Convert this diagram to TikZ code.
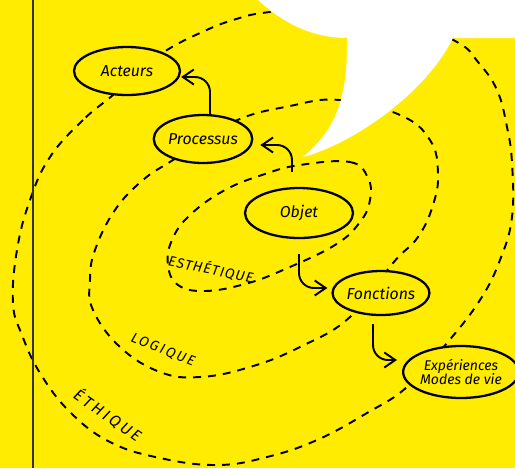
\documentclass[tikz,border=0pt]{standalone}
\usepackage{fontspec}
\setmainfont{Fira Sans}
\usepackage{xcolor}
\usepackage{tikz}
\usetikzlibrary{shapes.geometric,arrows.meta,positioning}

\definecolor{sunyellow}{HTML}{FFEC00}

\begin{document}
\begin{tikzpicture}[x=0.02cm, y=-0.02cm,
  bubble/.style={ellipse, draw, line width=1.3pt, fill=sunyellow, inner sep=0pt,
    align=center, font=\itshape\small},
  flow/.style={->, >={Straight Barb[length=2.2mm, width=3mm, line width=1.1pt]},
    line width=1.1pt, rounded corners=0.3cm},
  loop/.style={dashed, dash pattern=on 4.5pt off 4pt, line width=1.1pt},
  levelname/.style={inner sep=1pt}]
% Background
\useasboundingbox (0,0) rectangle (515,468);
\fill[sunyellow] (0,0) rectangle (515,468);
\clip (0,0) rectangle (515,468);

% Loops
\draw[loop] plot[smooth cycle, tension=0.7] coordinates {
  (300,165) (350,162) (368,178) (370,200) (360,222) (335,245) (283,270)
  (245,284) (205,291) (178,285) (168,265) (172,240) (190,215) (225,190) (265,174)};
\draw[loop] plot[smooth cycle, tension=0.7] coordinates {
  (173,160) (233,122) (290,106) (340,100) (400,115) (430,140) (438,173)
  (433,205) (418,237) (393,263) (350,317) (300,347) (250,367) (200,377)
  (160,372) (120,347) (93,310) (90,280) (95,250) (115,210) (143,180)};
\draw[loop] plot[smooth cycle, tension=0.7] coordinates {
  (113,95) (83,120) (50,157) (30,200) (17,250) (13,303) (22,335) (40,373)
  (70,412) (110,442) (160,458) (217,465) (267,457) (317,440) (367,413)
  (407,387) (447,343) (480,300) (500,260) (512,217) (512,163) (507,127)
  (497,90) (478,62) (457,42) (400,18) (340,8) (270,12) (233,20) (200,33)
  (167,50) (140,70)};

% Speech bubble
\fill[white] (258,0) .. controls (285,25) and (315,38) .. (347,38)
  .. controls (348,100) and (335,130) .. (303,157)
  .. controls (350,145) and (425,95) .. (453,38)
  -- (515,38) -- (515,0) -- cycle;

% Margin rule
\draw[line width=1.5pt, black!80] (33,0) -- (33,468);

% Nodes
\node[bubble, minimum width=2.12cm, minimum height=0.96cm] (acteurs) at (127,71) {Acteurs};
\node[bubble, minimum width=1.8cm, minimum height=0.96cm] (processus) at (203,139) {Processus};
\node[bubble, minimum width=2.16cm, minimum height=1.0cm] (objet) at (299,213) {Objet};
\node[bubble, minimum width=1.92cm, minimum height=0.88cm] (fonctions) at (381,293) {Fonctions};
\node[bubble, minimum width=2.16cm, minimum height=1.04cm, font=\itshape\footnotesize]
  (experiences) at (461,372) {Expériences\\[-2pt]Modes de vie};

% Arrows
\draw[flow] ([xshift=0.14cm]processus.north) |- ([yshift=-0.12cm]acteurs.east);
\draw[flow, shorten <=0.3cm] ([xshift=-0.14cm]objet.north) |- ([xshift=0.14cm, yshift=-0.12cm]processus.east);
\draw[flow, shorten <=0.3cm] (objet.south) |- ([xshift=-0.08cm, yshift=0.1cm]fonctions.west);
\draw[flow, shorten <=0.16cm] ([xshift=-0.16cm]fonctions.south) |- ([xshift=-0.1cm, yshift=0.24cm]experiences.west);

% Level names
\node[levelname, rotate=-12, font=\itshape\footnotesize\addfontfeatures{LetterSpace=8}]
  (esthetique) at (211,269) {ESTHÉTIQUE};
\node[levelname, rotate=-22, font=\itshape\footnotesize\addfontfeatures{LetterSpace=15}]
  (logique) at (163,350) {LOGIQUE};
\node[levelname, rotate=-35, font=\itshape\small\addfontfeatures{LetterSpace=18}]
  (ethique) at (108,415) {ÉTHIQUE};
\end{tikzpicture}
\end{document}
